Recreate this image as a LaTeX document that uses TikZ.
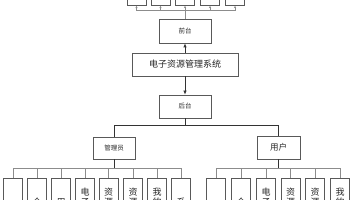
\documentclass[tikz,border=0pt]{standalone}
\usepackage{fontspec}
\newfontfamily\cjk{Noto Sans CJK SC}
\usetikzlibrary{arrows.meta}
\begin{document}
\begin{tikzpicture}[x=1pt,y=-1pt,
  box/.style={draw=black!65, line width=0.7pt, fill=white, inner sep=0pt, text=black!85},
  small/.style={font=\cjk\fontsize{6.5}{7}\selectfont},
  mid/.style={font=\cjk\fontsize{8.5}{9}\selectfont},
  leaf/.style={box, minimum width=19pt, minimum height=78pt, anchor=north, align=center, font=\cjk\fontsize{9}{10}\selectfont},
  topleaf/.style={box, minimum width=19pt, minimum height=30pt, anchor=south},
  dark/.style={draw=black!80, line width=0.7pt},
  conn/.style={draw=black!45, line width=0.7pt},
  arr/.style={dark, -{Latex[length=4pt,width=3.5pt]}},
  tarr/.style={conn, -{Stealth[length=2.2pt,width=2.2pt]}}
]
\clip (0,0) rectangle (356,200);
\fill[white] (0,0) rectangle (356,200);

% top row (cut off)
\foreach \i/\x in {1/136.5,2/160.5,3/185,4/210,5/235}
  \node[topleaf] (t\i) at (\x,6) {};

\node[box, small, minimum width=52pt, minimum height=24pt] (fr) at (185,31) {前台};
\node[box, font=\cjk\fontsize{9}{10}\selectfont, minimum width=106pt, minimum height=23pt] (sys) at (185,64.5) {电子资源管理系统};
\node[box, small, minimum width=52pt, minimum height=23pt] (bt) at (185,106.5) {后台};
\node[box, small, minimum width=42pt, minimum height=22pt] (adm) at (114,148) {管理员};
\node[box, mid, minimum width=43pt, minimum height=23pt] (usr) at (278.5,147.5) {用户};

% admin leaves
\foreach \i/\x/\t in {1/13/{首\\页},2/37/{个\\人\\中\\心},3/61/{用\\户\\管\\理},4/85/{电\\子\\资\\源\\管\\理},5/108.5/{资\\源\\分\\类\\管\\理},6/133/{资\\源\\申\\请\\管\\理},7/157/{我\\的\\收\\藏\\管\\理},8/181/{系\\统\\管\\理}}
  \node[leaf] (a\i) at (\x,178) {\t};

% user leaves
\foreach \i/\x/\t in {1/216/{首\\页},2/241/{个\\人\\中\\心},3/266/{电\\子\\资\\源\\管\\理},4/290.5/{资\\源\\分\\类\\管\\理},5/315/{资\\源\\申\\请\\管\\理},6/340/{我\\的\\收\\藏\\管\\理}}
  \node[leaf] (u\i) at (\x,178) {\t};

% top connectors
\foreach \i in {1,2,4,5}
  \draw[tarr] (fr.north) -- ++(0,-8) -| (t\i.south);
\draw[dark] (fr.north) -- ++(0,-8);
\draw[tarr] (fr.north) -- (t3.south);

% middle arrows
\draw[arr] (sys.north) -- (fr.south);
\draw[arr] (sys.south) -- (bt.north);

% tree
\draw[dark] (bt.south) -- ++(0,7) -| (adm.north);
\draw[dark] (bt.south) -- ++(0,7) -| (usr.north);

\foreach \i in {1,...,8}
  \draw[conn] (adm.south) -- ++(0,9) -| (a\i.north);
\draw[dark] (adm.south) -- ++(0,9);
\foreach \i in {1,...,6}
  \draw[conn] (usr.south) -- ++(0,9) -| (u\i.north);
\draw[dark] (usr.south) -- ++(0,9);
\end{tikzpicture}
\end{document}
